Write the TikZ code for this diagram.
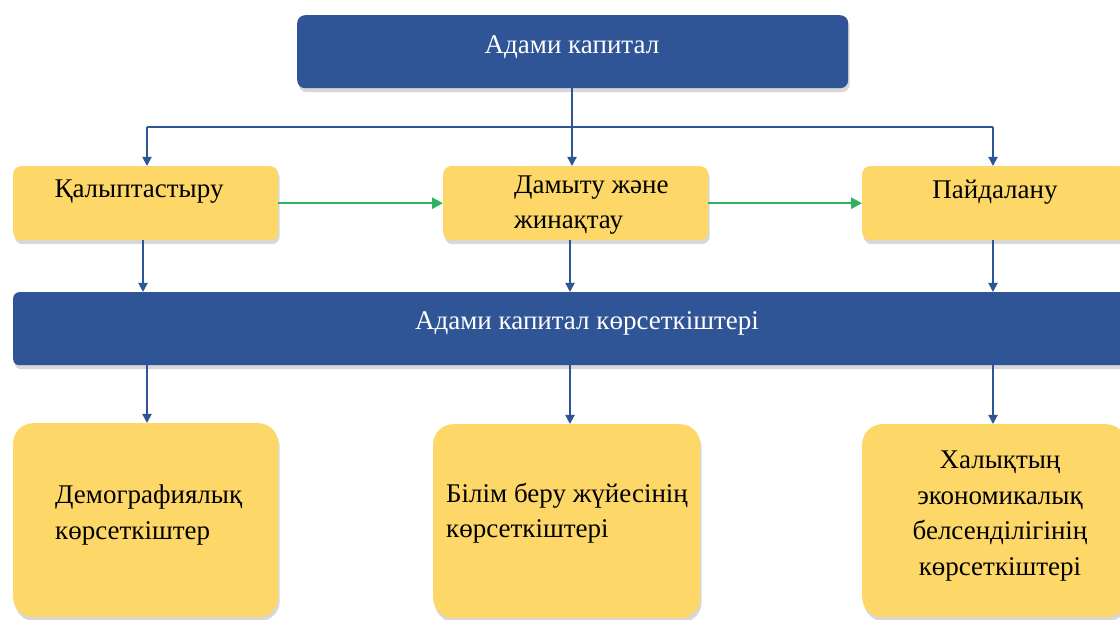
\documentclass[tikz,border=0pt]{standalone}
\usepackage{fontspec}
\setmainfont{Liberation Serif}
\usetikzlibrary{arrows.meta,shadows,calc}
\definecolor{dblue}{HTML}{2F5597}
\definecolor{yfill}{HTML}{FDD767}
\definecolor{lblue}{HTML}{2E5596}
\definecolor{agreen}{HTML}{2DB35F}
\tikzset{
  boxshadow/.style={drop shadow={opacity=0.3, shadow xshift=1.5pt, shadow yshift=-4pt}},
  bluebox/.style={fill=dblue, draw=none, rounded corners=8pt, inner sep=0pt, boxshadow},
  ybox/.style={fill=yfill, draw=none, rounded corners=8pt, inner sep=0pt, boxshadow},
  ybig/.style={fill=yfill, draw=none, rounded corners=20pt, inner sep=0pt, boxshadow},
  txt/.style={font=\fontsize{27}{35.5}\selectfont, inner sep=0pt, text=black},
  wtxt/.style={font=\fontsize{27}{35.5}\selectfont, inner sep=0pt, text=white},
  conn/.style={draw=lblue, line width=1.8pt},
  arr/.style={conn, -{Triangle[length=9pt,width=9pt]}},
  garr/.style={draw=agreen, line width=2.4pt, -{Triangle[length=11pt,width=11pt]}}
}
\begin{document}
\begin{tikzpicture}[x=1pt,y=-1pt]
\useasboundingbox (0,0) rectangle (1120,620);
\fill[white] (0,0) rectangle (1120,620);

% top box
\node[bluebox, minimum width=551pt, minimum height=73pt, anchor=north west] (top) at (297,15) {};
\node[wtxt] (toptxt) at (572,47) {Адами капитал};

% row 2
\node[ybox, minimum width=265pt, minimum height=74pt, anchor=north west] (b1) at (13,166) {};
\node[ybox, minimum width=265pt, minimum height=74pt, anchor=north west] (b2) at (443,166) {};
\node[ybox, minimum width=264pt, minimum height=74pt, anchor=north west] (b3) at (862,166) {};
\node[txt] (t1) at (139,192) {Қалыптастыру};
\node[txt, anchor=west, align=left] (t2) at (514,205) {Дамыту және\\жинақтау};
\node[txt] (t3) at (995,192) {Пайдалану};

% bar
\node[bluebox, rounded corners=6pt, minimum width=1150pt, minimum height=73pt, anchor=north west] (bar) at (13,292) {};
\node[wtxt] (bartxt) at (587,323) {Адами капитал көрсеткіштері};

% bottom boxes
\node[ybig, minimum width=265pt, minimum height=194pt, anchor=north west] (d1) at (13,423) {};
\node[ybig, minimum width=267pt, minimum height=194pt, anchor=north west] (d2) at (433,424) {};
\node[ybig, minimum width=264pt, minimum height=193pt, anchor=north west] (d3) at (862,424) {};
\node[txt, anchor=west, align=left] (e1) at (55,515) {Демографиялық\\көрсеткіштер};
\node[txt, anchor=west, align=left] (e2) at (446,513) {Білім беру жүйесінің\\көрсеткіштері};
\node[txt, align=center] (e3) at (1000,516) {Халықтың\\экономикалық\\белсенділігінің\\көрсеткіштері};

% connectors top -> row 2
\coordinate (bj) at (572,127);
\draw[conn] (bj |- top.south) -- (bj);
\draw[conn] (147,127) coordinate (bl) -- (993,127) coordinate (br);
\draw[arr] (bl) -- (bl |- b1.north);
\draw[arr] (bj) -- (bj |- b2.north);
\draw[arr] (br) -- (br |- b3.north);

% green arrows
\draw[garr] (b1.east) -- (b2.west);
\draw[garr] (b2.east) -- (b3.west);

% row 2 -> bar
\coordinate (c1) at (143,240);
\coordinate (c2) at (570,240);
\coordinate (c3) at (993,240);
\draw[arr] (c1) -- (c1 |- bar.north);
\draw[arr] (c2) -- (c2 |- bar.north);
\draw[arr] (c3) -- (c3 |- bar.north);

% bar -> bottom
\coordinate (f1) at (147,365);
\coordinate (f2) at (570,365);
\coordinate (f3) at (993,365);
\draw[arr] (f1) -- (f1 |- d1.north);
\draw[arr] (f2) -- (f2 |- d2.north);
\draw[arr] (f3) -- (f3 |- d3.north);
\end{tikzpicture}
\end{document}
